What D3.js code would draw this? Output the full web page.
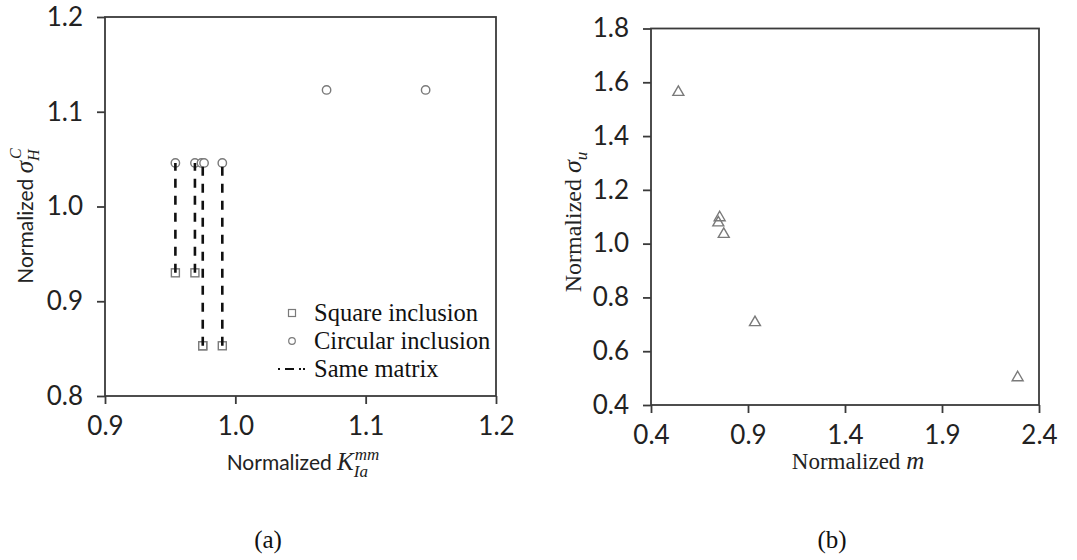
<!DOCTYPE html>
<html>
<head>
<meta charset="utf-8">
<script src="https://cdn.jsdelivr.net/npm/d3@7"></script>
<style>
  html, body { margin: 0; padding: 0; background: #fff; }
  svg { display: block; }
</style>
</head>
<body>
<svg id="chart" width="1077" height="560"></svg>
<script>
// ---------- Data: panel (a) ----------
const squareX = [0.954, 0.969, 0.975, 0.975, 0.990];
const squareY = [0.930, 0.930, 0.853, 0.853, 0.853];
const circleX = [0.954, 0.969, 0.974, 0.976, 0.990, 1.070, 1.146];
const circleY = [1.046, 1.046, 1.046, 1.046, 1.046, 1.123, 1.123];
const matrixX = [0.954, 0.969, 0.975, 0.990];
const matrixLow = [0.930, 0.930, 0.853, 0.853];
const matrixHigh = [1.046, 1.046, 1.046, 1.046];
const xTicksA = [0.9, 1.0, 1.1, 1.2];
const yTicksA = [0.8, 0.9, 1.0, 1.1, 1.2];
const legendLabels = ["Square inclusion", "Circular inclusion", "Same matrix"];

// ---------- Data: panel (b) ----------
const mValues = [0.541, 0.754, 0.747, 0.775, 0.936, 2.290];
const sigmaU = [1.563, 1.097, 1.078, 1.035, 0.707, 0.502];
const xTicksB = [0.4, 0.9, 1.4, 1.9, 2.4];
const yTicksB = [0.4, 0.6, 0.8, 1.0, 1.2, 1.4, 1.6, 1.8];

const svg = d3.select("#chart");
const axisColor = "#3a3a3a";
const markerColor = "#7a7a7a";
const sansFont = "Lato, 'Open Sans', sans-serif";
const serifFont = "'Liberation Serif', 'DejaVu Serif', serif";

function drawFrame(g, x, y, xTicks, yTicks) {
  const [x0, x1] = x.range();
  const [y0, y1] = y.range();
  const xa = g.append("g").attr("transform", `translate(0,${y0})`)
    .call(d3.axisBottom(x).tickValues(xTicks).tickSize(8).tickPadding(13).tickFormat(d3.format(".1f")));
  const ya = g.append("g").attr("transform", `translate(${x0},0)`)
    .call(d3.axisLeft(y).tickValues(yTicks).tickSize(8).tickPadding(14).tickFormat(d3.format(".1f")));
  [xa, ya].forEach(a => {
    a.select(".domain").remove();
    a.selectAll(".tick line").attr("stroke", axisColor).attr("stroke-width", 1.8);
    a.selectAll(".tick text").attr("fill", "#222").style("font-family", sansFont).style("font-size", "26px");
  });
  g.append("rect")
    .attr("x", x0).attr("y", y1)
    .attr("width", x1 - x0).attr("height", y0 - y1)
    .attr("fill", "none").attr("stroke", axisColor).attr("stroke-width", 1.8);
}

// ---------- Panel (a) ----------
const xA = d3.scaleLinear().domain([0.9, 1.2]).range([105, 496]);
const yA = d3.scaleLinear().domain([0.8, 1.2]).range([396, 17]);
const gA = svg.append("g");
drawFrame(gA, xA, yA, xTicksA, yTicksA);

const sq = 8;
gA.append("g").selectAll("rect").data(squareX.map((d, i) => [d, squareY[i]])).join("rect")
  .attr("x", d => xA(d[0]) - sq / 2).attr("y", d => yA(d[1]) - sq / 2)
  .attr("width", sq).attr("height", sq)
  .attr("fill", "#fff").attr("stroke", markerColor).attr("stroke-width", 1.4);
gA.append("g").selectAll("circle").data(circleX.map((d, i) => [d, circleY[i]])).join("circle")
  .attr("cx", d => xA(d[0])).attr("cy", d => yA(d[1])).attr("r", 4.2)
  .attr("fill", "#fff").attr("stroke", markerColor).attr("stroke-width", 1.4);
gA.append("g").selectAll("line").data(matrixX.map((d, i) => [d, matrixLow[i], matrixHigh[i]])).join("line")
  .attr("x1", d => xA(d[0])).attr("x2", d => xA(d[0]))
  .attr("y1", d => yA(d[1])).attr("y2", d => yA(d[2]))
  .attr("stroke", "#111").attr("stroke-width", 2.6).attr("stroke-dasharray", "9,8");

// legend
const leg = gA.append("g");
const legY = [313, 341, 369];
const legSymX = 292;
leg.append("rect").attr("x", legSymX - 3.5).attr("y", legY[0] - 3.5).attr("width", 7).attr("height", 7)
  .attr("fill", "#fff").attr("stroke", markerColor).attr("stroke-width", 1.2);
leg.append("circle").attr("cx", legSymX).attr("cy", legY[1]).attr("r", 3.3)
  .attr("fill", "#fff").attr("stroke", markerColor).attr("stroke-width", 1.2);
leg.append("line").attr("x1", legSymX - 14).attr("x2", legSymX + 13).attr("y1", legY[2]).attr("y2", legY[2])
  .attr("stroke", "#111").attr("stroke-width", 2.2).attr("stroke-dasharray", "2,5,9,5,2");
leg.selectAll("text").data(legendLabels).join("text")
  .attr("x", legSymX + 22).attr("y", (d, i) => legY[i] + 8)
  .style("font-family", serifFont).style("font-size", "24.5px").attr("fill", "#111")
  .text(d => d);

// axis titles (a)
const xtA = gA.append("text").attr("x", 303).attr("y", 470).attr("text-anchor", "middle")
  .style("font-family", sansFont).style("font-size", "21px").attr("fill", "#222");
xtA.append("tspan").text("Normalized ");
xtA.append("tspan").style("font-family", serifFont).style("font-style", "italic").style("font-size", "25px").text("K");
const subA = xtA.append("tspan").style("font-family", serifFont).style("font-style", "italic")
  .style("font-size", "17px").attr("dy", 7).text("Ia");
const supA = xtA.append("tspan").style("font-family", serifFont).style("font-style", "italic")
  .style("font-size", "17px").attr("dy", -17).text("mm");
supA.attr("dx", -subA.node().getComputedTextLength() + 1);

const ytA = gA.append("text").attr("transform", "translate(33,216) rotate(-90)").attr("text-anchor", "middle")
  .style("font-family", sansFont).style("font-size", "21px").attr("fill", "#222");
ytA.append("tspan").text("Normalized ");
ytA.append("tspan").style("font-family", serifFont).style("font-style", "italic").style("font-size", "25px").text("σ");
const subA2 = ytA.append("tspan").style("font-family", serifFont).style("font-style", "italic")
  .style("font-size", "16px").attr("dy", 6).text("H");
const supA2 = ytA.append("tspan").style("font-family", serifFont).style("font-style", "italic")
  .style("font-size", "16px").attr("dy", -18).text("C");
supA2.attr("dx", -subA2.node().getComputedTextLength() + 2);

svg.append("text").attr("x", 268).attr("y", 548).attr("text-anchor", "middle")
  .style("font-family", serifFont).style("font-size", "25px").attr("fill", "#111").text("(a)");

// ---------- Panel (b) ----------
const xB = d3.scaleLinear().domain([0.4, 2.4]).range([651, 1039]);
const yB = d3.scaleLinear().domain([0.4, 1.8]).range([405, 28.5]);
const gB = svg.append("g");
drawFrame(gB, xB, yB, xTicksB, yTicksB);

gB.append("g").selectAll("path").data(mValues.map((d, i) => [d, sigmaU[i]])).join("path")
  .attr("transform", d => `translate(${xB(d[0])},${yB(d[1])})`)
  .attr("d", d3.symbol().type(d3.symbolTriangle).size(52))
  .attr("fill", "none").attr("stroke", markerColor).attr("stroke-width", 1.4);

const xtB = gB.append("text").attr("x", 858).attr("y", 469).attr("text-anchor", "middle")
  .style("font-family", serifFont).style("font-size", "23px").attr("fill", "#222");
xtB.append("tspan").text("Normalized ");
xtB.append("tspan").style("font-style", "italic").style("font-size", "25px").text("m");

const ytB = gB.append("text").attr("transform", "translate(581,222) rotate(-90)").attr("text-anchor", "middle")
  .style("font-family", serifFont).style("font-size", "24px").attr("fill", "#222");
ytB.append("tspan").text("Normalized ");
ytB.append("tspan").style("font-style", "italic").style("font-size", "26px").text("σ");
ytB.append("tspan").style("font-style", "italic").style("font-size", "17px").attr("dy", 6).text("u");

svg.append("text").attr("x", 832).attr("y", 548).attr("text-anchor", "middle")
  .style("font-family", serifFont).style("font-size", "25px").attr("fill", "#111").text("(b)");
</script>
</body>
</html>
